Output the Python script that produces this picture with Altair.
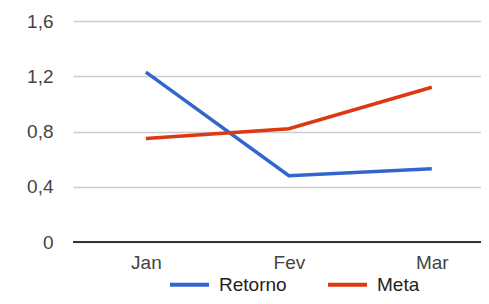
import altair as alt
import pandas as pd

months = ["Jan", "Fev", "Mar"]
retorno = [1.23, 0.48, 0.53]
meta = [0.75, 0.82, 1.12]
series_names = ["Retorno", "Meta"]
colors = ["#3366CC", "#DC3912"]
y_ticks = [0, 0.4, 0.8, 1.2, 1.6]

rows = []
for name, vals in zip(series_names, [retorno, meta]):
    for i, (m, v) in enumerate(zip(months, vals)):
        rows.append({"idx": i, "month": m, "series": name, "value": v})
df = pd.DataFrame(rows)

FONT = "Liberation Sans"
month_expr = "[" + ",".join(f"'{m}'" for m in months) + "][datum.value]"

lines = alt.Chart(df).mark_line(strokeWidth=3.5, strokeCap="butt").encode(
    x=alt.X("idx:Q", title=None,
            scale=alt.Scale(domain=[-0.51, 2.344], nice=False, zero=False),
            axis=alt.Axis(values=[0, 1, 2], grid=False, domain=False, ticks=False,
                          labelFontSize=19, labelColor="#444", labelFont=FONT,
                          labelPadding=11, labelAngle=0, labelExpr=month_expr)),
    y=alt.Y("value:Q", title=None,
            scale=alt.Scale(domain=[0, 1.6], nice=False, zero=True),
            axis=alt.Axis(values=y_ticks, domain=False, ticks=False, labelFontSize=19,
                          labelColor="#444", labelFont=FONT, labelPadding=20,
                          gridColor="#cccccc", gridWidth=1.5,
                          labelExpr="datum.value == 0 ? '0' : replace(format(datum.value, '.1f'), '.', ',')")),
    color=alt.Color("series:N", sort=series_names,
                    scale=alt.Scale(domain=series_names, range=colors),
                    legend=alt.Legend(title=None, orient="none", direction="horizontal",
                                      legendX=95, legendY=242, symbolType="stroke",
                                      symbolStrokeWidth=4, symbolSize=1521,
                                      labelFontSize=19, labelColor="#222", labelFont=FONT,
                                      labelOffset=8, columnPadding=33)),
    detail="series:N",
)

baseline = alt.Chart(pd.DataFrame({"y": [0]})).mark_rule(color="#333333", strokeWidth=2).encode(
    y="y:Q"
)

chart = alt.layer(lines, baseline).properties(
    width=408, height=221,
    padding={"left": 65, "top": 13, "right": 0, "bottom": 54},
    autosize=alt.AutoSizeParams(type="none"),
).configure_view(stroke=None)

chart.save("out.html", embed_options={"renderer": "svg", "actions": False})
